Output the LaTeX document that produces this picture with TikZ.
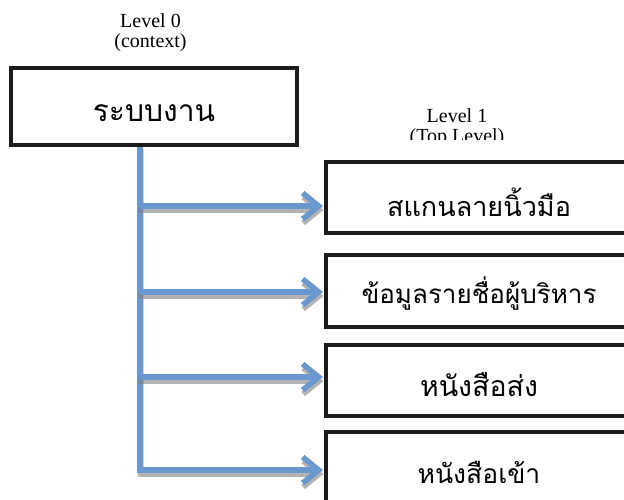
\documentclass[tikz,border=0pt]{standalone}
\usepackage{fontspec}
\setmainfont{Liberation Serif}
\newfontfamily\thaifont[Script=Thai]{Loma}
\usetikzlibrary{arrows.meta}
\definecolor{flowblue}{HTML}{6A97CD}
\definecolor{flowshade}{HTML}{808080}
\definecolor{boxedge}{HTML}{1C1C1C}
\begin{document}
\begin{tikzpicture}[x=1pt,y=-1pt,
  sysbox/.style={draw=boxedge,line width=4pt,fill=white,rectangle,inner sep=0pt,
    text depth=0pt,font=\thaifont\fontsize{26}{30}\selectfont},
  levellabel/.style={align=center,font=\fontsize{20}{20}\selectfont,inner sep=0pt},
  barb/.style={-{Straight Barb[length=16pt,width=26pt,line width=5.5pt]}},
  flow/.style={draw=flowblue,line width=5.5pt,line cap=butt,barb},
  flowline/.style={draw=flowblue,line width=5.5pt},
  trunkshadow/.style={draw=flowshade!35,line width=5.5pt},
  flowshadowarrow/.style={draw=flowshade,draw opacity=0.6,line width=5.5pt,barb},
  sh/.style={xshift=0.5pt,yshift=-4pt},
  tsh/.style={xshift=1.5pt,yshift=-2pt}
]
\useasboundingbox (0,0) rectangle (624,499);
\clip (0,0) rectangle (624,499);

% level labels
\node[levellabel] (lvl0) at (150.5,33) {Level 0\\(context)};
\begin{scope}
  \clip (380,90) rectangle (540,139.5);
  \node[levellabel] (lvl1) at (457,128) {Level 1\\(Top Level)};
\end{scope}

% boxes
\node[sysbox,minimum width=286pt,minimum height=77pt,text height=29pt,font=\thaifont\fontsize{30}{34}\selectfont] (sys) at (154,106.5) {ระบบงาน};
\node[sysbox,minimum width=306pt,minimum height=71pt,text height=38pt,font=\thaifont\fontsize{27}{30}\selectfont] (b1) at (479,197.5) {สแกนลายนิ้วมือ};
\node[sysbox,minimum width=306pt,minimum height=72pt,text height=24pt] (b2) at (479,291) {ข้อมูลรายชื่อผู้บริหาร};
\node[sysbox,minimum width=306pt,minimum height=71pt,text height=32pt,font=\thaifont\fontsize{28.5}{30}\selectfont] (b3) at (479,380.5) {หนังสือส่ง};
\node[sysbox,minimum width=306pt,minimum height=72pt,text height=30pt,font=\thaifont\fontsize{26.5}{30}\selectfont] (b4) at (479,468) {หนังสือเข้า};

% connector anchor points
\coordinate (t0) at (140,147);
\coordinate (a1) at (323,206);
\coordinate (a2) at (323,292);
\coordinate (a3) at (323,377);
\coordinate (a4) at (323,470);

% trunk with its light shadow
\path[trunkshadow] ([tsh]t0) -- ([tsh]t0 |- a4);
\path[flowline] (t0) -- ([yshift=-2.75pt]t0 |- a4);

% branch shadows
\path[flowshadowarrow] ([sh,xshift=-2.75pt]t0 |- a1) -- ([sh]a1);
\path[flowshadowarrow] ([sh,xshift=-2.75pt]t0 |- a2) -- ([sh]a2);
\path[flowshadowarrow] ([sh,xshift=-2.75pt]t0 |- a3) -- ([sh]a3);
\path[flowshadowarrow] ([sh,xshift=-2.75pt]t0 |- a4) -- ([sh]a4);

% flow connectors
\path[flow] (t0 |- a1) -- (a1);
\path[flow] (t0 |- a2) -- (a2);
\path[flow] (t0 |- a3) -- (a3);
\path[flow] ([xshift=-2.75pt]t0 |- a4) -- (a4);
\end{tikzpicture}
\end{document}
